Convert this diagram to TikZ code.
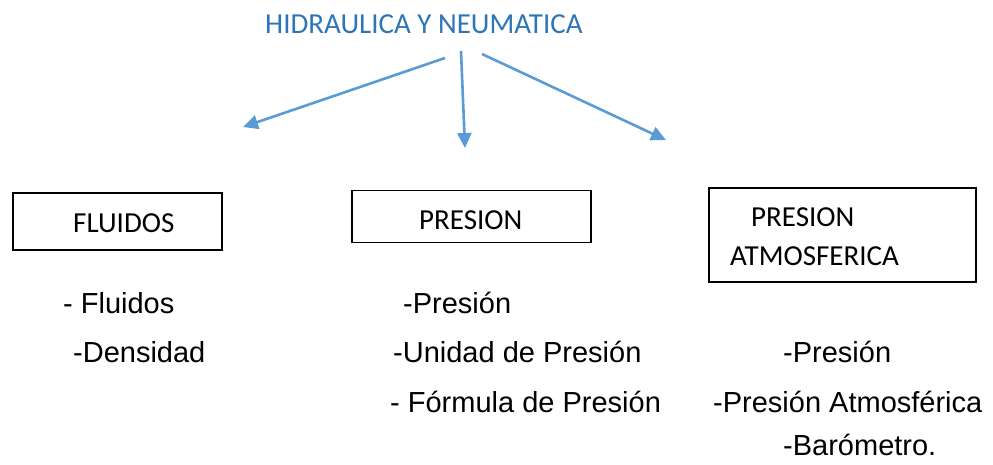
\documentclass[tikz,border=0pt]{standalone}
\usepackage{fontspec}
\setmainfont{Liberation Sans}
\newfontfamily\calib{Carlito}
\usetikzlibrary{arrows.meta}
\definecolor{titleblue}{HTML}{2E75B6}
\definecolor{arrowblue}{HTML}{5B9BD5}
\begin{document}
\begin{tikzpicture}[x=1pt,y=-1pt,
  box/.style={draw=black,line width=1.3pt,minimum width=#1,inner sep=0pt},
  head/.style={font=\calib\fontsize{29}{34}\selectfont,anchor=base west,inner sep=0pt},
  item/.style={font=\fontsize{29}{34}\selectfont,anchor=base west,inner sep=0pt},
  conn/.style={draw=arrowblue,line width=2.6pt,-{Triangle[length=15pt,width=14pt]}}]
\useasboundingbox (0,0) rectangle (993,464);
% title
\node[head,text=titleblue] (title) at (265,33) {HIDRAULICA Y NEUMATICA};
% boxes
\node[draw,line width=1.3pt,minimum width=209pt,minimum height=57pt,inner sep=0pt] (b1) at (117.5,221.5) {};
\node[draw,line width=1.3pt,minimum width=239pt,minimum height=52pt,inner sep=0pt] (b2) at (471.5,216.5) {};
\node[draw,line width=1.3pt,minimum width=267pt,minimum height=94pt,inner sep=0pt] (b3) at (842.5,235) {};
\node[head] (t1) at (73,232) {FLUIDOS};
\node[head] (t2) at (419,229) {PRESION};
\node[head] (t3a) at (751,226) {PRESION};
\node[head] (t3b) at (730,265) {ATMOSFERICA};
% arrows
\coordinate (s1) at (445,58);
\coordinate (e1) at (243,127);
\coordinate (s2) at (461,51);
\coordinate (e2) at (465,148);
\coordinate (s3) at (482,54);
\coordinate (e3) at (666,140);
\draw[conn] (s1) -- (e1);
\draw[conn] (s2) -- (e2);
\draw[conn] (s3) -- (e3);
% items
\node[item] (f1) at (63,313) {- Fluidos};
\node[item] (f2) at (73,362) {-Densidad};
\node[item] (p1) at (403,313) {-Presión};
\node[item] (p2) at (393,362) {-Unidad de Presión};
\node[item] (p3) at (390,412) {- Fórmula de Presión};
\node[item] (a1) at (783,362) {-Presión};
\node[item] (a2) at (713,412) {-Presión Atmosférica};
\node[item] (a3) at (783,455) {-Barómetro.};
\end{tikzpicture}
\end{document}
